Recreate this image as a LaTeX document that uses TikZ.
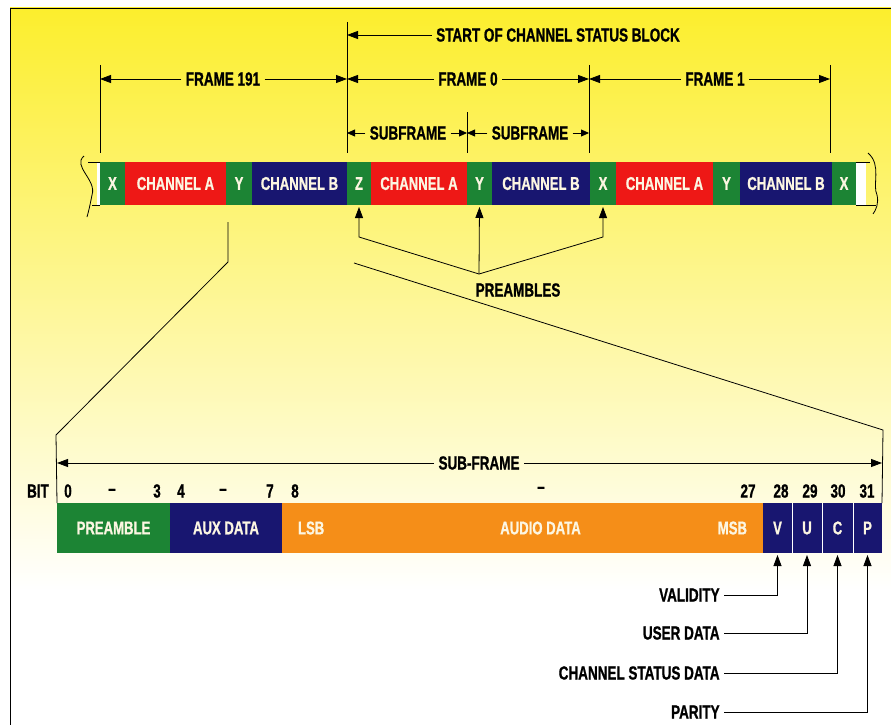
\documentclass[tikz,border=0pt]{standalone}
\usepackage{fontspec}
\setmainfont{Liberation Sans}[FakeStretch=0.71, BoldFeatures={FakeBold=0.9}]
\usetikzlibrary{positioning,arrows.meta}
\definecolor{bgyellow}{RGB}{252,238,45}
\definecolor{bgpale}{RGB}{255,251,165}
\definecolor{pregreen}{RGB}{28,132,52}
\definecolor{chred}{RGB}{238,24,22}
\definecolor{chblue}{RGB}{24,22,112}
\definecolor{audorange}{RGB}{245,142,24}
\definecolor{bartext}{RGB}{252,246,226}

\begin{document}
\begin{tikzpicture}[
        x=1pt, y=-1pt,
        line width=0.8pt,
        >={Triangle[length=11pt,width=8pt]},
        lbl/.style={
            font=\fontsize{19}{22}\selectfont\bfseries,
            inner sep=4pt
        },
        cell/.style={
            minimum height=43pt,
            inner sep=0pt,
            outer sep=0pt,
            text=bartext,
            font=\fontsize{18.5}{22}\selectfont\bfseries
        },
        bitcell/.style={cell, minimum height=50pt},
        sub/.style={-{Triangle[length=8pt,width=7pt]}}
    ]
        \useasboundingbox (0,0) rectangle (891,725);
        \shade[top color=bgyellow, middle color=bgpale, bottom color=white]
            (10,8) rectangle (891,590);
        \draw (10,725) -- (10,8) -- (891,8);

        % frames on the line
        \node[cell, fill=pregreen, minimum width=25pt, anchor=west] (xa) at (100,183.5) {X};
        \node[cell, fill=chred, minimum width=101pt, right=0pt of xa] (cha) {CHANNEL A};
        \node[cell, fill=pregreen, minimum width=26pt, right=0pt of cha] (ya) {Y};
        \node[cell, fill=chblue, minimum width=95pt, right=0pt of ya] (chb) {CHANNEL B};
        \node[cell, fill=pregreen, minimum width=24pt, right=0pt of chb] (z0) {Z};
        \node[cell, fill=chred, minimum width=96pt, right=0pt of z0] (cha0) {CHANNEL A};
        \node[cell, fill=pregreen, minimum width=25pt, right=0pt of cha0] (y0) {Y};
        \node[cell, fill=chblue, minimum width=98pt, right=0pt of y0] (chb0) {CHANNEL B};
        \node[cell, fill=pregreen, minimum width=26pt, right=0pt of chb0] (x1) {X};
        \node[cell, fill=chred, minimum width=97pt, right=0pt of x1] (cha1) {CHANNEL A};
        \node[cell, fill=pregreen, minimum width=27pt, right=0pt of cha1] (y1) {Y};
        \node[cell, fill=chblue, minimum width=92pt, right=0pt of y1] (chb1) {CHANNEL B};
        \node[cell, fill=pregreen, minimum width=24pt, right=0pt of chb1] (xb) {X};

        % broken ends
        \fill[white] (97,162) rectangle (xa.south west);
        \draw (xa.north west) -- (88,162);
        \draw (xa.south west) -- (92,205);
        \draw (84,156) .. controls (72,166) and (97,180) .. (92,195)
            .. controls (90,205) and (89,210) .. (87,217);
        \fill[white] (xb.north east) rectangle (866,205);
        \draw (xb.north east) -- (870,162);
        \draw (xb.south east) -- (876,205);
        \draw (868,153) .. controls (882,165) and (872,185) .. (877,195)
            .. controls (879,203) and (876,210) .. (873,214);

        % dimension lines
        \coordinate (e191) at (100,65);
        \coordinate (e0) at (347,22);
        \coordinate (emid) at (467,112);
        \coordinate (e1) at (589,65);
        \coordinate (e2) at (830,65);
        \coordinate (elow) at (0,153);
        \draw (e191) -- (e191 |- elow);
        \draw (e0) -- (e0 |- elow);
        \draw (emid) -- (emid |- elow);
        \draw (e1) -- (e1 |- elow);
        \draw (e2) -- (e2 |- elow);

        \node[lbl] (csb) at (558,35) {START OF CHANNEL STATUS BLOCK};
        \draw[->] (csb) -- (csb -| e0);

        \node[lbl] (f191) at (223,79) {FRAME 191};
        \draw[->] (f191) -- (f191 -| e191);
        \draw[->] (f191) -- (f191 -| e0);
        \node[lbl] (f0) at (468,79) {FRAME 0};
        \draw[->] (f0) -- (f0 -| e0);
        \draw[->] (f0) -- (f0 -| e1);
        \node[lbl] (f1) at (715,79) {FRAME 1};
        \draw[->] (f1) -- (f1 -| e1);
        \draw[->] (f1) -- (f1 -| e2);

        \node[lbl] (sf1) at (408,133) {SUBFRAME};
        \draw[sub] (sf1) -- (sf1 -| e0);
        \draw[sub] (sf1) -- (sf1 -| emid);
        \node[lbl] (sf2) at (530,133) {SUBFRAME};
        \draw[sub] (sf2) -- (sf2 -| emid);
        \draw[sub] (sf2) -- (sf2 -| e1);

        % preambles
        \node[lbl] (preamb) at (518,290) {PREAMBLES};
        \coordinate (pj) at (479,274);
        \coordinate (pk) at (0,237);
        \draw[->, shorten >=2pt] (pj) -- (z0.south |- pk) -- (z0.south);
        \draw[->, shorten >=2pt] (pj) -- (y0.south);
        \draw[->, shorten >=2pt] (pj) -- (x1.south |- pk) -- (x1.south);

        % one sub-frame
        \node[bitcell, fill=pregreen, minimum width=113pt, anchor=west] (pre) at (57,528) {PREAMBLE};
        \node[bitcell, fill=chblue, minimum width=112pt, right=0pt of pre] (aux) {AUX DATA};
        \node[bitcell, fill=audorange, minimum width=481pt, right=0pt of aux] (aud) {};
        \node[bitcell, fill=chblue, minimum width=29pt, right=0pt of aud] (vb) {V};
        \node[bitcell, fill=chblue, minimum width=30pt, right=0pt of vb] (ub) {U};
        \node[bitcell, fill=chblue, minimum width=31pt, right=0pt of ub] (cb) {C};
        \node[bitcell, fill=chblue, minimum width=29pt, right=0pt of cb] (pb) {P};
        \draw[white, line width=0.6pt] (ub.north west) -- (ub.south west);
        \draw[white, line width=0.6pt] (cb.north west) -- (cb.south west);
        \draw[white, line width=0.6pt] (pb.north west) -- (pb.south west);
        \node[cell, anchor=west] (lsb) at ([xshift=16pt]aud.west) {LSB};
        \node[cell] (audt) at ([xshift=18pt]aud.center) {AUDIO DATA};
        \node[cell, anchor=east] (msb) at ([xshift=-16pt]aud.east) {MSB};

        \coordinate (za) at (228,222);
        \coordinate (zb) at (228,262);
        \coordinate (zc) at (56,435);
        \draw (za) -- (zb) -- (zc) -- (pre.north west);
        \coordinate (zd) at (354,263);
        \coordinate (ze) at (883,430);
        \draw (zd) -- (ze) -- (pb.north east);

        \node[lbl] (subf) at (479,463) {SUB-FRAME};
        \draw[->] (subf) -- (subf -| pre.west);
        \draw[->] (subf) -- (subf -| pb.east);

        % bit numbers
        \node[lbl] (bit) at (38,491) {BIT};
        \node[lbl] (n0) at (68,491) {0};
        \node[lbl] (d1) at (112,492) {–};
        \node[lbl] (n3) at (157,491) {3};
        \node[lbl] (n4) at (181,491) {4};
        \node[lbl] (d2) at (223,492) {–};
        \node[lbl] (n7) at (270,491) {7};
        \node[lbl] (n8) at (295,491) {8};
        \node[lbl] (d3) at (541,490) {–};
        \node[lbl] (n27) at (748,491) {27};
        \node[lbl] (n28) at (781,491) {28};
        \node[lbl] (n29) at (810,491) {29};
        \node[lbl] (n30) at (838,491) {30};
        \node[lbl] (n31) at (867,491) {31};

        % status bits
        \node[lbl, anchor=east] (val) at (724,595) {VALIDITY};
        \draw[->, shorten >=2pt] (val) -- (val -| vb.south) -- (vb.south);
        \node[lbl, anchor=east] (usr) at (724,633) {USER DATA};
        \draw[->, shorten >=2pt] (usr) -- (usr -| ub.south) -- (ub.south);
        \node[lbl, anchor=east] (csd) at (724,673) {CHANNEL STATUS DATA};
        \draw[->, shorten >=2pt] (csd) -- (csd -| cb.south) -- (cb.south);
        \node[lbl, anchor=east] (par) at (724,712) {PARITY};
        \draw[->, shorten >=2pt] (par) -- (par -| pb.south) -- (pb.south);
    \end{tikzpicture}
\end{document}
